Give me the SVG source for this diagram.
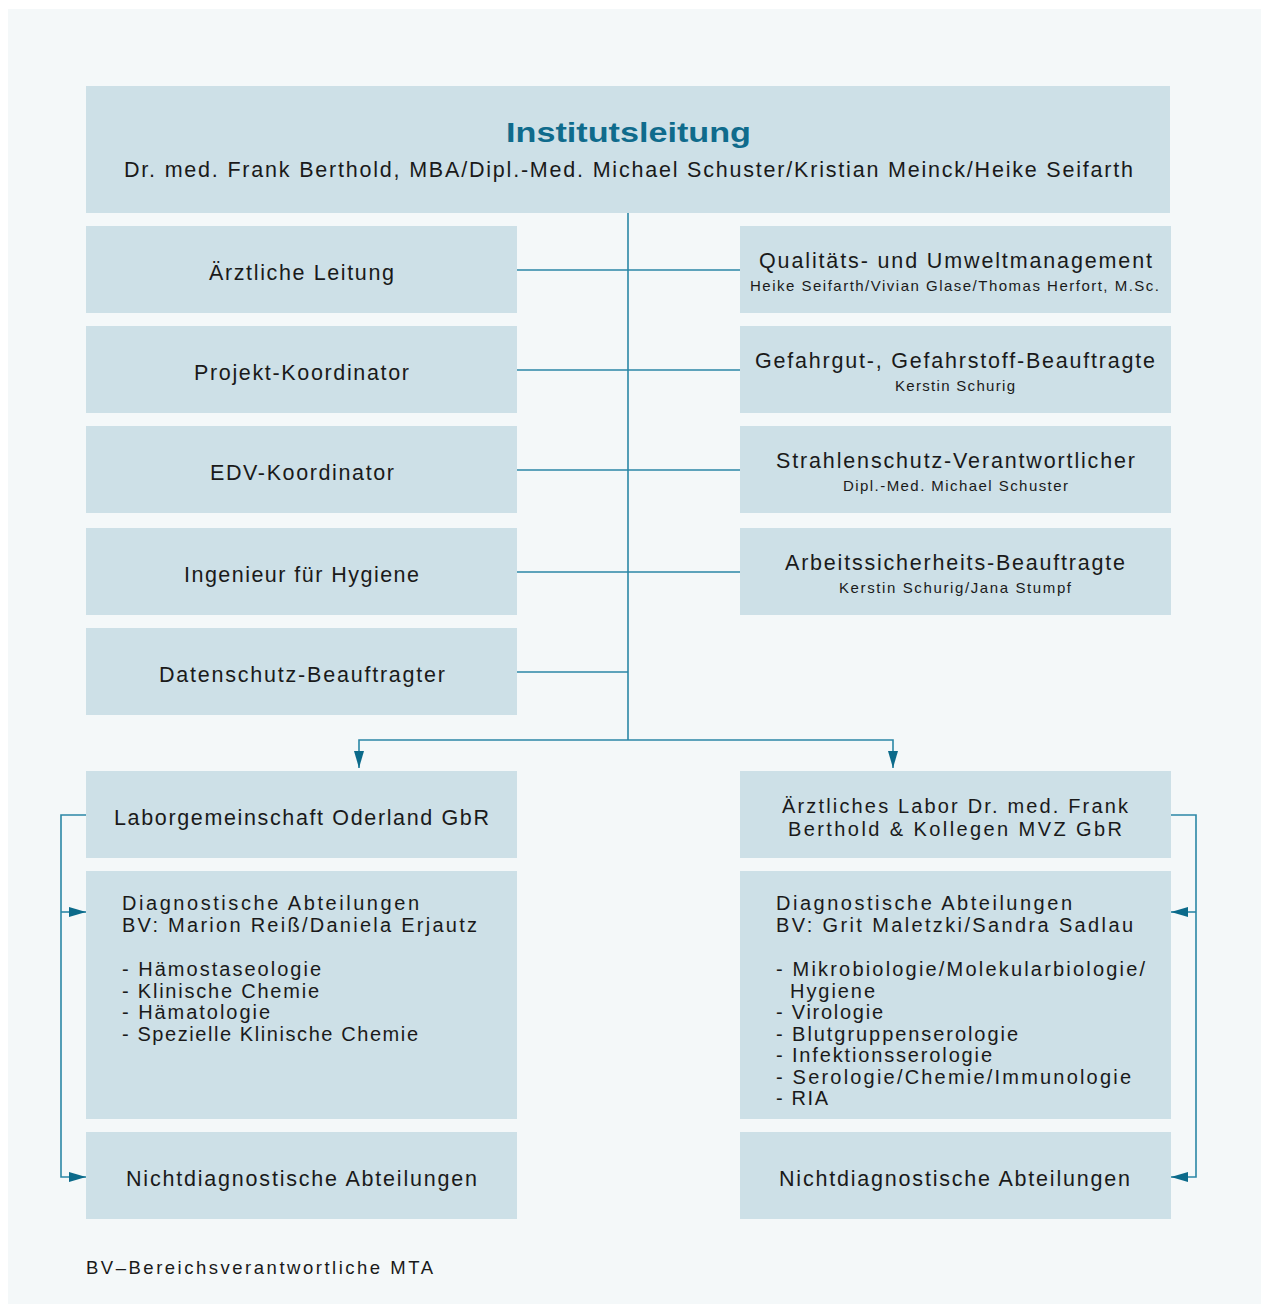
<svg xmlns="http://www.w3.org/2000/svg" width="1261" height="1304" viewBox="0 0 1261 1304">
<defs>
<style>
.bg{fill:#f4f8f9}
.box{fill:#cde0e7}
text{font-family:"Liberation Sans",Arial,sans-serif;fill:#1a1a1a}
.t{font-size:21.5px}
.l{font-size:20px}
.s{font-size:15px}
.c{text-anchor:middle}
.title{font-size:28px;font-weight:bold;fill:#0f6b8c}
.ln{fill:none;stroke:#2b87a6;stroke-width:1.6}
</style>
<marker id="ah" markerUnits="userSpaceOnUse" markerWidth="18" markerHeight="10" refX="17" refY="5" orient="auto">
<path d="M0,0 L17,5 L0,10 Z" fill="#0b6a8a"/>
</marker>
</defs>
<rect x="0" y="0" width="1261" height="1304" fill="#ffffff"/>
<rect class="bg" x="8" y="9" width="1253" height="1295"/>

<g id="connectors">
<path class="ln" d="M628,213 V740"/>
<path class="ln" d="M517,270 H740 M517,370 H740 M517,470 H740 M517,572 H740 M517,672 H628"/>
<path class="ln" d="M628,740 H359 V768" marker-end="url(#ah)"/>
<path class="ln" d="M628,740 H893 V768" marker-end="url(#ah)"/>
<path class="ln" d="M86,815 H61 V1177 H86" marker-end="url(#ah)"/>
<path class="ln" d="M61,912 H86" marker-end="url(#ah)"/>
<path class="ln" d="M1170,815 H1196 V1177 H1171" marker-end="url(#ah)"/>
<path class="ln" d="M1196,912 H1171" marker-end="url(#ah)"/>
</g>

<g id="institutsleitung">
<rect class="box" x="86" y="86" width="1084" height="127"/>
<text class="title c" x="628.5" y="142" textLength="245" lengthAdjust="spacingAndGlyphs">Institutsleitung</text>
<text class="t c" x="628.5" y="177" textLength="1009" lengthAdjust="spacing">Dr. med. Frank Berthold, MBA/Dipl.-Med. Michael Schuster/Kristian Meinck/Heike Seifarth</text>
</g>

<g id="aerztliche-leitung">
<rect class="box" x="86" y="226" width="431" height="87"/>
<text class="t c" x="301.5" y="280" textLength="185" lengthAdjust="spacing">Ärztliche Leitung</text>
</g>
<g id="projekt-koordinator">
<rect class="box" x="86" y="326" width="431" height="87"/>
<text class="t c" x="301.5" y="380" textLength="215" lengthAdjust="spacing">Projekt-Koordinator</text>
</g>
<g id="edv-koordinator">
<rect class="box" x="86" y="426" width="431" height="87"/>
<text class="t c" x="302" y="480" textLength="184" lengthAdjust="spacing">EDV-Koordinator</text>
</g>
<g id="ingenieur-hygiene">
<rect class="box" x="86" y="528" width="431" height="87"/>
<text class="t c" x="301.5" y="582" textLength="235" lengthAdjust="spacing">Ingenieur für Hygiene</text>
</g>
<g id="datenschutz">
<rect class="box" x="86" y="628" width="431" height="87"/>
<text class="t c" x="302" y="682" textLength="286" lengthAdjust="spacing">Datenschutz-Beauftragter</text>
</g>

<g id="qualitaet">
<rect class="box" x="740" y="226" width="431" height="87"/>
<text class="t c" x="955.5" y="268" textLength="393" lengthAdjust="spacing">Qualitäts- und Umweltmanagement</text>
<text class="s c" x="954.5" y="291" textLength="409" lengthAdjust="spacing">Heike Seifarth/Vivian Glase/Thomas Herfort, M.Sc.</text>
</g>
<g id="gefahrgut">
<rect class="box" x="740" y="326" width="431" height="87"/>
<text class="t c" x="955" y="368" textLength="400" lengthAdjust="spacing">Gefahrgut-, Gefahrstoff-Beauftragte</text>
<text class="s c" x="955" y="391" textLength="120" lengthAdjust="spacing">Kerstin Schurig</text>
</g>
<g id="strahlenschutz">
<rect class="box" x="740" y="426" width="431" height="87"/>
<text class="t c" x="955.5" y="468" textLength="359" lengthAdjust="spacing">Strahlenschutz-Verantwortlicher</text>
<text class="s c" x="955.5" y="491" textLength="225" lengthAdjust="spacing">Dipl.-Med. Michael Schuster</text>
</g>
<g id="arbeitssicherheit">
<rect class="box" x="740" y="528" width="431" height="87"/>
<text class="t c" x="955" y="570" textLength="340" lengthAdjust="spacing">Arbeitssicherheits-Beauftragte</text>
<text class="s c" x="955" y="593" textLength="232" lengthAdjust="spacing">Kerstin Schurig/Jana Stumpf</text>
</g>

<g id="laborgemeinschaft">
<rect class="box" x="86" y="771" width="431" height="87"/>
<text class="t c" x="301.5" y="825" textLength="375" lengthAdjust="spacing">Laborgemeinschaft Oderland GbR</text>
</g>
<g id="aerztliches-labor">
<rect class="box" x="740" y="771" width="431" height="87"/>
<text class="l c" x="955" y="813" textLength="346" lengthAdjust="spacing">Ärztliches Labor Dr. med. Frank</text>
<text class="l c" x="955" y="836" textLength="334" lengthAdjust="spacing">Berthold &amp; Kollegen MVZ GbR</text>
</g>

<g id="diag-links">
<rect class="box" x="86" y="871" width="431" height="248"/>
<text class="l" x="122" y="910" textLength="297" lengthAdjust="spacing">Diagnostische Abteilungen</text>
<text class="l" x="122" y="932" textLength="355" lengthAdjust="spacing">BV: Marion Reiß/Daniela Erjautz</text>
<text class="l" x="122" y="976" textLength="199" lengthAdjust="spacing">- Hämostaseologie</text>
<text class="l" x="122" y="998" textLength="197" lengthAdjust="spacing">- Klinische Chemie</text>
<text class="l" x="122" y="1019" textLength="148" lengthAdjust="spacing">- Hämatologie</text>
<text class="l" x="122" y="1041" textLength="296" lengthAdjust="spacing">- Spezielle Klinische Chemie</text>
</g>
<g id="diag-rechts">
<rect class="box" x="740" y="871" width="431" height="248"/>
<text class="l" x="776" y="910" textLength="296" lengthAdjust="spacing">Diagnostische Abteilungen</text>
<text class="l" x="776" y="932" textLength="357" lengthAdjust="spacing">BV: Grit Maletzki/Sandra Sadlau</text>
<text class="l" x="776" y="976" textLength="369" lengthAdjust="spacing">- Mikrobiologie/Molekularbiologie/</text>
<text class="l" x="790" y="998" textLength="85" lengthAdjust="spacing">Hygiene</text>
<text class="l" x="776" y="1019" textLength="107" lengthAdjust="spacing">- Virologie</text>
<text class="l" x="776" y="1041" textLength="242" lengthAdjust="spacing">- Blutgruppenserologie</text>
<text class="l" x="776" y="1062" textLength="216" lengthAdjust="spacing">- Infektionsserologie</text>
<text class="l" x="776" y="1084" textLength="355" lengthAdjust="spacing">- Serologie/Chemie/Immunologie</text>
<text class="l" x="776" y="1105" textLength="52" lengthAdjust="spacing">- RIA</text>
</g>

<g id="nichtdiag-links">
<rect class="box" x="86" y="1132" width="431" height="87"/>
<text class="t c" x="301.5" y="1186" textLength="351" lengthAdjust="spacing">Nichtdiagnostische Abteilungen</text>
</g>
<g id="nichtdiag-rechts">
<rect class="box" x="740" y="1132" width="431" height="87"/>
<text class="t c" x="954.5" y="1186" textLength="351" lengthAdjust="spacing">Nichtdiagnostische Abteilungen</text>
</g>

<g id="legende">
<text x="86" y="1274" style="font-size:18.5px" textLength="347" lengthAdjust="spacing">BV–Bereichsverantwortliche MTA</text>
</g>
</svg>
